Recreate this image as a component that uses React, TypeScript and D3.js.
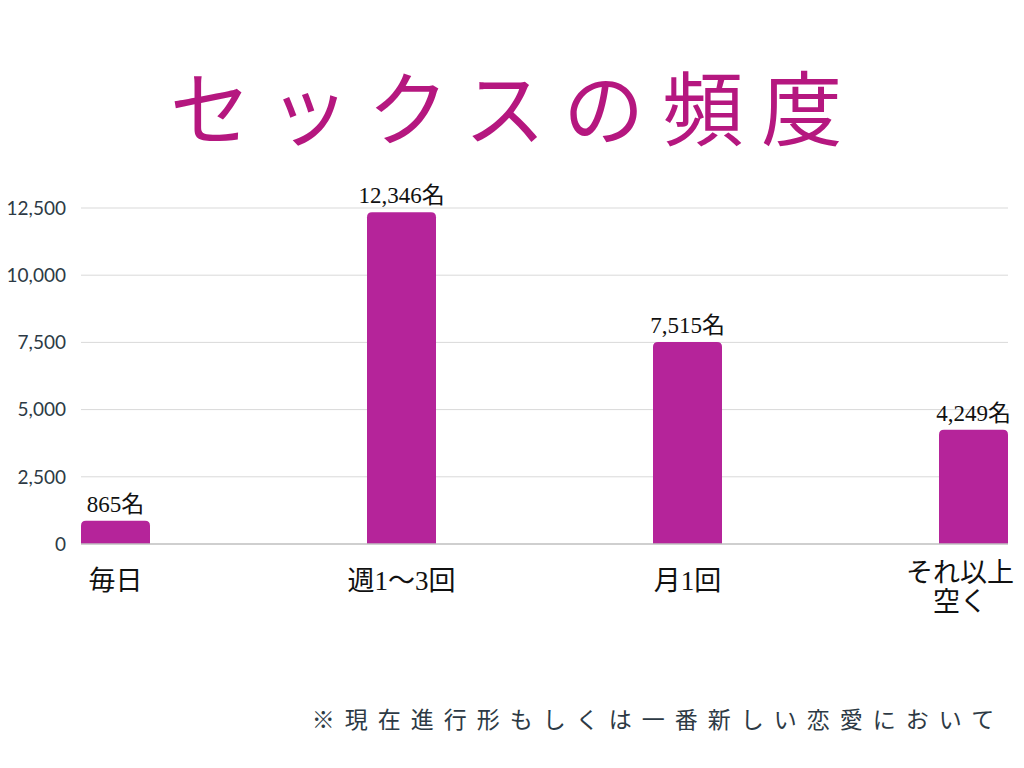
import React from "react";
import * as d3 from "d3";

const categories = ["毎日", "週1〜3回", "月1回", "それ以上\n空く"];
const values = [865, 12346, 7515, 4249];
const valueLabels = ["865名", "12,346名", "7,515名", "4,249名"];
const yTicks = [0, 2500, 5000, 7500, 10000, 12500];
const title = "セックスの頻度";
const footnote = "※現在進行形もしくは一番新しい恋愛において";

const W = 1024;
const H = 768;
const left = 81;
const right = 1008;
const barW = 69;
const step = 286;

export default function App() {
  const y = d3.scaleLinear().domain([0, 12500]).range([544, 208]);
  const x = d3
    .scaleBand<string>()
    .domain(categories)
    .range([left, left + step * categories.length])
    .paddingInner(0)
    .paddingOuter(0);
  const fmt = d3.format(",");
  const serif = "'Liberation Serif', 'DejaVu Serif', 'Noto Sans CJK JP', serif";
  const sans = "Lato, 'Noto Sans CJK JP', sans-serif";
  const barPath = (x0: number, y0: number, w: number, y1: number, r: number) => {
    const p = d3.path();
    p.moveTo(x0, y1);
    p.lineTo(x0, y0 + r);
    p.quadraticCurveTo(x0, y0, x0 + r, y0);
    p.lineTo(x0 + w - r, y0);
    p.quadraticCurveTo(x0 + w, y0, x0 + w, y0 + r);
    p.lineTo(x0 + w, y1);
    p.closePath();
    return p.toString();
  };
  return (
    <svg width={W} height={H} style={{ position: "absolute", left: 0, top: 0, background: "#fff" }}>
      <text
        x={515}
        y={139}
        textAnchor="middle"
        fill="#b5177f"
        fontSize={81}
        letterSpacing={18}
        fontFamily="'Noto Sans CJK JP', serif"
        fontWeight={400}
      >
        {title}
      </text>
      {yTicks.map((t) => (
        <g key={t}>
          {t !== 0 && (
            <line x1={left} x2={right} y1={y(t)} y2={y(t)} stroke="#d9d9d9" strokeWidth={1} />
          )}
          <text
            x={66}
            y={y(t)}
            dy="0.36em"
            textAnchor="end"
            fontSize={19}
            fill="#2d3a45"
            fontFamily={sans}
          >
            {fmt(t)}
          </text>
        </g>
      ))}
      {categories.map((c, i) => {
        const bx = x(c)!;
        const by = y(values[i]);
        const cx = bx + barW / 2;
        const lines = c.split("\n");
        const lx = i === categories.length - 1 ? 960 : cx;
        return (
          <g key={c}>
            <path d={barPath(bx, by, barW, y(0), 5)} fill="#b5249a" />
            <text
              x={cx}
              y={by - 9}
              textAnchor="middle"
              fontSize={23}
              fill="#111"
              fontFamily={serif}
            >
              {valueLabels[i]}
            </text>
            {lines.map((ln, j) => (
              <text
                key={j}
                x={lx}
                y={lines.length > 1 ? 582 + j * 29 : 590}
                textAnchor="middle"
                fontSize={27}
                fill="#111"
                fontFamily={serif}
              >
                {ln}
              </text>
            ))}
          </g>
        );
      })}
      <line x1={left} x2={right} y1={y(0)} y2={y(0)} stroke="#bfbfbf" strokeWidth={1.5} />
      <text
        x={658}
        y={728}
        textAnchor="middle"
        fontSize={23}
        letterSpacing={10}
        fill="#2d3a45"
        fontFamily="'Noto Sans CJK JP', sans-serif"
      >
        {footnote}
      </text>
    </svg>
  );
}
